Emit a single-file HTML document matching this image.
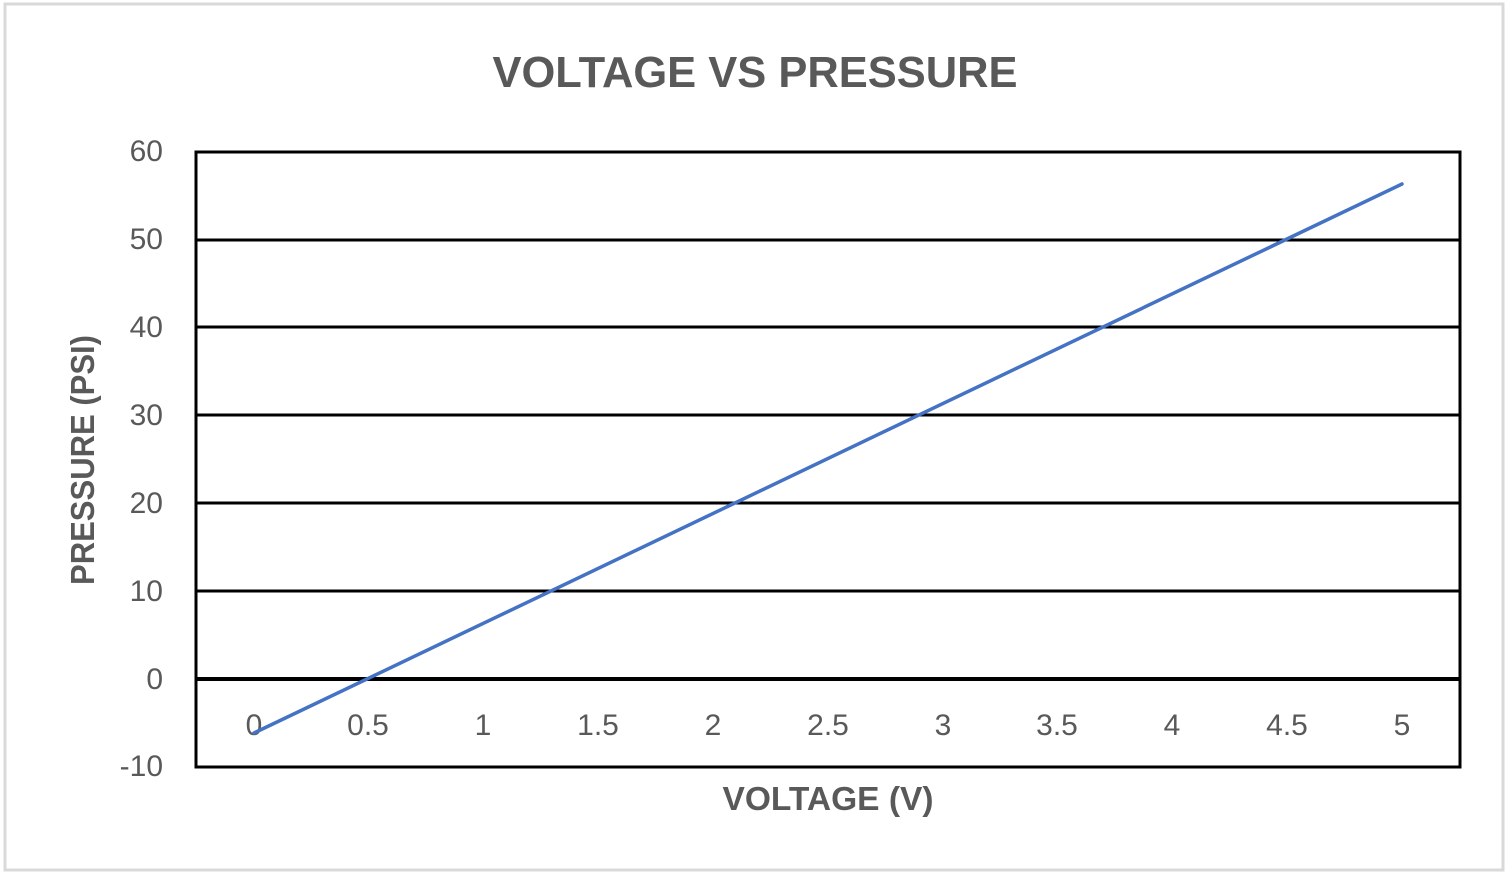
<!DOCTYPE html>
<html><head><style>
html,body{margin:0;padding:0;background:#fff;}
svg{display:block;}
text{font-family:"Liberation Sans",sans-serif;fill:#595959;}
</style></head><body>
<svg width="1507" height="875" xmlns="http://www.w3.org/2000/svg">
<rect x="5" y="4" width="1498" height="866" fill="#fff" stroke="#d9d9d9" stroke-width="3"/>
<text x="755" y="87" text-anchor="middle" font-size="44" font-weight="bold" textLength="525" lengthAdjust="spacingAndGlyphs">VOLTAGE VS PRESSURE</text>
<g stroke="#000" stroke-width="3">
<line x1="196" y1="152" x2="1460" y2="152"/>
<line x1="196" y1="240" x2="1460" y2="240"/>
<line x1="196" y1="327" x2="1460" y2="327"/>
<line x1="196" y1="415" x2="1460" y2="415"/>
<line x1="196" y1="503" x2="1460" y2="503"/>
<line x1="196" y1="591" x2="1460" y2="591"/>
<line x1="196" y1="679" x2="1460" y2="679" stroke-width="4"/>
<line x1="196" y1="767" x2="1460" y2="767"/>
<line x1="196" y1="150.5" x2="196" y2="768.5"/>
<line x1="1460" y1="150.5" x2="1460" y2="768.5"/>
</g>
<g font-size="30" text-anchor="end">
<text x="163" y="161">60</text>
<text x="163" y="249">50</text>
<text x="163" y="337">40</text>
<text x="163" y="425">30</text>
<text x="163" y="513">20</text>
<text x="163" y="601">10</text>
<text x="163" y="689">0</text>
<text x="163" y="776">-10</text>
</g>
<g font-size="30" text-anchor="middle">
<text x="254" y="735">0</text>
<text x="368" y="735">0.5</text>
<text x="483" y="735">1</text>
<text x="598" y="735">1.5</text>
<text x="713" y="735">2</text>
<text x="828" y="735">2.5</text>
<text x="943" y="735">3</text>
<text x="1057" y="735">3.5</text>
<text x="1172" y="735">4</text>
<text x="1287" y="735">4.5</text>
<text x="1402" y="735">5</text>
</g>
<line x1="254" y1="733" x2="1402" y2="184" stroke="#4472c4" stroke-width="3.5" stroke-linecap="round"/>
<text x="828" y="810" text-anchor="middle" font-size="33" font-weight="bold" textLength="211" lengthAdjust="spacingAndGlyphs">VOLTAGE (V)</text>
<text transform="translate(94,460) rotate(-90)" text-anchor="middle" font-size="33" font-weight="bold" textLength="250" lengthAdjust="spacingAndGlyphs">PRESSURE (PSI)</text>
</svg>
</body></html>
